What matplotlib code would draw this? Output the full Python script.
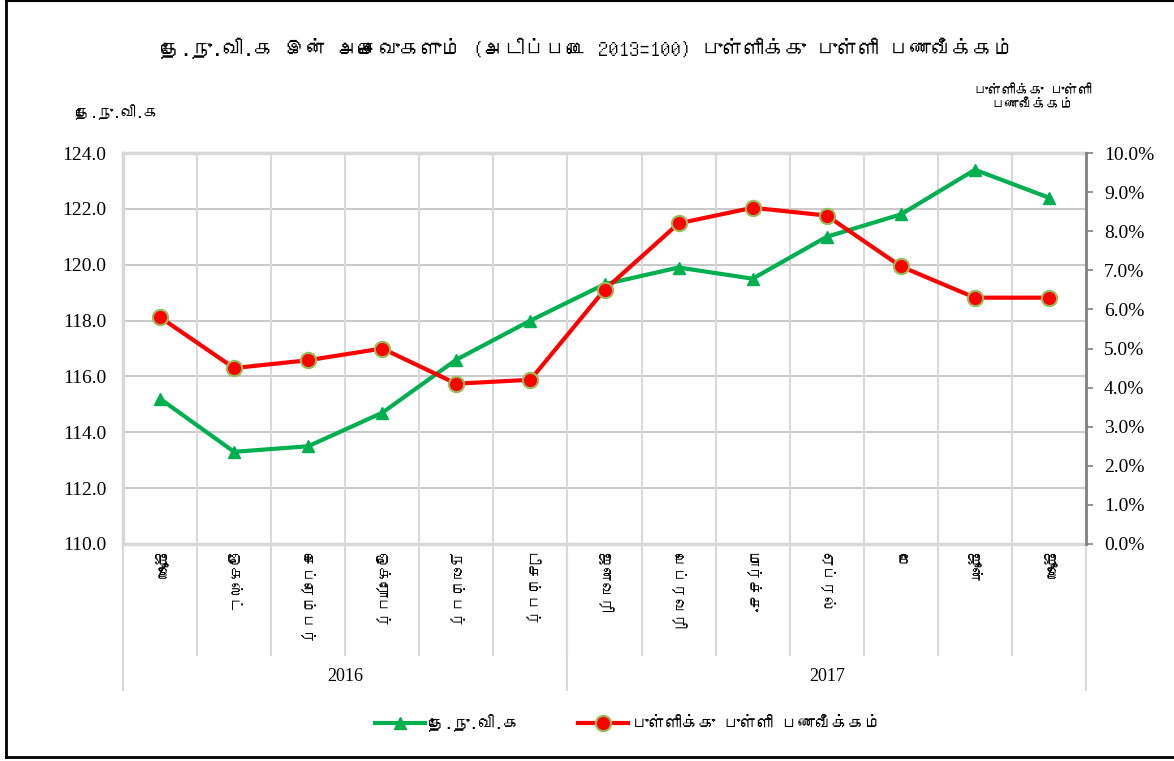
import numpy as np
import matplotlib
matplotlib.use("Agg")
import matplotlib.pyplot as plt
from matplotlib import font_manager
from matplotlib.ft2font import FT2Font
from matplotlib.lines import Line2D
import matplotlib.transforms as mtransforms

# data
months = ["ஜூலை", "ஓகஸ்ட்", "செப்ரெம்பர்", "ஒக்ரோபர்", "நவம்பர்", "டிசம்பர்",
          "ஜனவரி", "பெப்ரவரி", "மார்ச்சு", "ஏப்ரல்", "மே", "ஜூன்", "ஜூலை"]
years = ["2016", "2017"]
year_counts = [6, 7]
ccpi = [115.2, 113.3, 113.5, 114.7, 116.6, 118.0, 119.3, 119.9, 119.5, 121.0, 121.8, 123.4, 122.4]
inflation = [5.8, 4.5, 4.7, 5.0, 4.1, 4.2, 6.5, 8.2, 8.6, 8.4, 7.1, 6.3, 6.3]

title = "தே.நு.வி.க இன் அசைவுகளும் (அடிப்படை 2013=100) புள்ளிக்கு புள்ளி பணவீக்கம்"
left_label = "தே.நு.வி.க"
right_label = "புள்ளிக்கு புள்ளி\nபணவீக்கம்"
series_names = ["தே.நு.வி.க", "புள்ளிக்கு புள்ளி பணவீக்கம்"]


def find_tamil_font():
    # look for any installed font that has Tamil glyphs
    for f in font_manager.fontManager.ttflist:
        try:
            cm = FT2Font(f.fname).get_charmap()
        except Exception:
            continue
        if 0x0BA4 in cm and 0x0BC1 in cm:
            return f.name
    return None


tamil = find_tamil_font()
fam = [tamil, "DejaVu Sans"] if tamil else ["DejaVu Sans"]
serif = ["Liberation Serif", "DejaVu Serif"]

green = "#00B050"
red = "#FF0000"

fig = plt.figure(figsize=(11.74, 7.61), dpi=100)
ax = fig.add_axes([123 / 1174, 1 - 544 / 761, (1086 - 123) / 1174, (544 - 153) / 761])
ax2 = ax.twinx()

x = np.arange(len(months))
ax.plot(x, ccpi, color=green, lw=3, marker="^", ms=9, mfc=green, mec=green,
        label=series_names[0], zorder=3)
ax2.plot(x, inflation, color=red, lw=3, marker="o", ms=11, mfc=red, mec="#9BBB59",
         mew=1.5, label=series_names[1], zorder=3)

ax.set_xlim(-0.5, len(months) - 0.5)
ax.set_ylim(110, 124)
ax2.set_ylim(0, 10)
ax.set_yticks(np.arange(110, 124.1, 2))
ax.set_yticklabels(["%.1f" % v for v in np.arange(110, 124.1, 2)], family=serif, fontsize=14)
ax2.set_yticks(np.arange(0, 10.1, 1))
ax2.set_yticklabels(["%.1f%%" % v for v in np.arange(0, 10.1, 1)], family=serif, fontsize=14)

# grid
for yv in np.arange(112, 124, 2):
    ax.axhline(yv, color="#C0C0C0", lw=1.2, zorder=0)
for xv in np.arange(0.5, len(months) - 1, 1):
    ax.axvline(xv, color="#D9D9D9", lw=1.5, zorder=0)

ax.set_xticks([])
ax.tick_params(axis="y", length=0, pad=12)
ax2.tick_params(axis="y", length=5, width=1.2, color="#808080", direction="out", pad=8)
for s in ["left", "top", "bottom"]:
    ax.spines[s].set_color("#D9D9D9")
    ax.spines[s].set_linewidth(2.5)
ax.spines["right"].set_visible(False)
for s in ["left", "top", "bottom"]:
    ax2.spines[s].set_visible(False)
ax2.spines["right"].set_color("#808080")
ax2.spines["right"].set_linewidth(2)

# multi-level category axis
trans = mtransforms.blended_transform_factory(ax.transData, ax.transAxes)
h1 = (655 - 544) / 391
h2 = (690 - 544) / 391
for xv in np.arange(0.5, len(months) - 1, 1):
    ax.add_line(Line2D([xv, xv], [0, -h1], transform=trans, color="#D9D9D9", lw=1.5, clip_on=False))
edges = np.concatenate([[0], np.cumsum(year_counts)]) - 0.5
for xv in edges:
    ax.add_line(Line2D([xv, xv], [0, -h2], transform=trans, color="#D9D9D9", lw=1.5, clip_on=False))
for i, m in enumerate(months):
    ax.text(x[i], -0.02, m, transform=trans, rotation=270, ha="center", va="top",
            family=fam, fontsize=11)
for j, yr in enumerate(years):
    ax.text((edges[j] + edges[j + 1]) / 2, -0.34, yr, transform=trans, ha="center", va="center",
            family=serif, fontsize=13)

# titles and axis captions
fig.text(0.5, 1 - 48 / 761, title, ha="center", va="center", family=fam, fontsize=15, weight="bold")
fig.text(75 / 1174, 1 - 112 / 761, left_label, ha="left", va="center", family=fam, fontsize=11, weight="bold")
fig.text(1092 / 1174, 1 - 98 / 761, right_label, ha="right", va="center", family=fam, fontsize=10,
         weight="bold", multialignment="center", linespacing=1.2)

# legend
h_a, l_a = ax.get_legend_handles_labels()
h_b, l_b = ax2.get_legend_handles_labels()
fig.legend(h_a + h_b, l_a + l_b, loc="center", bbox_to_anchor=(0.535, 1 - 723 / 761), ncol=2,
           frameon=False, prop={"family": fam, "size": 12}, handlelength=3.0, columnspacing=3.5,
           handletextpad=0.2)

# outer frame
fig.add_artist(Line2D([6 / 1174, 6 / 1174], [1 - 1 / 761, 1 - 757 / 761], color="black", lw=2))
fig.add_artist(Line2D([6 / 1174, 1], [1 - 1 / 761, 1 - 1 / 761], color="black", lw=1.5))
fig.add_artist(Line2D([6 / 1174, 1], [1 - 757 / 761, 1 - 757 / 761], color="black", lw=2))

fig.savefig("out.png", dpi=100)
